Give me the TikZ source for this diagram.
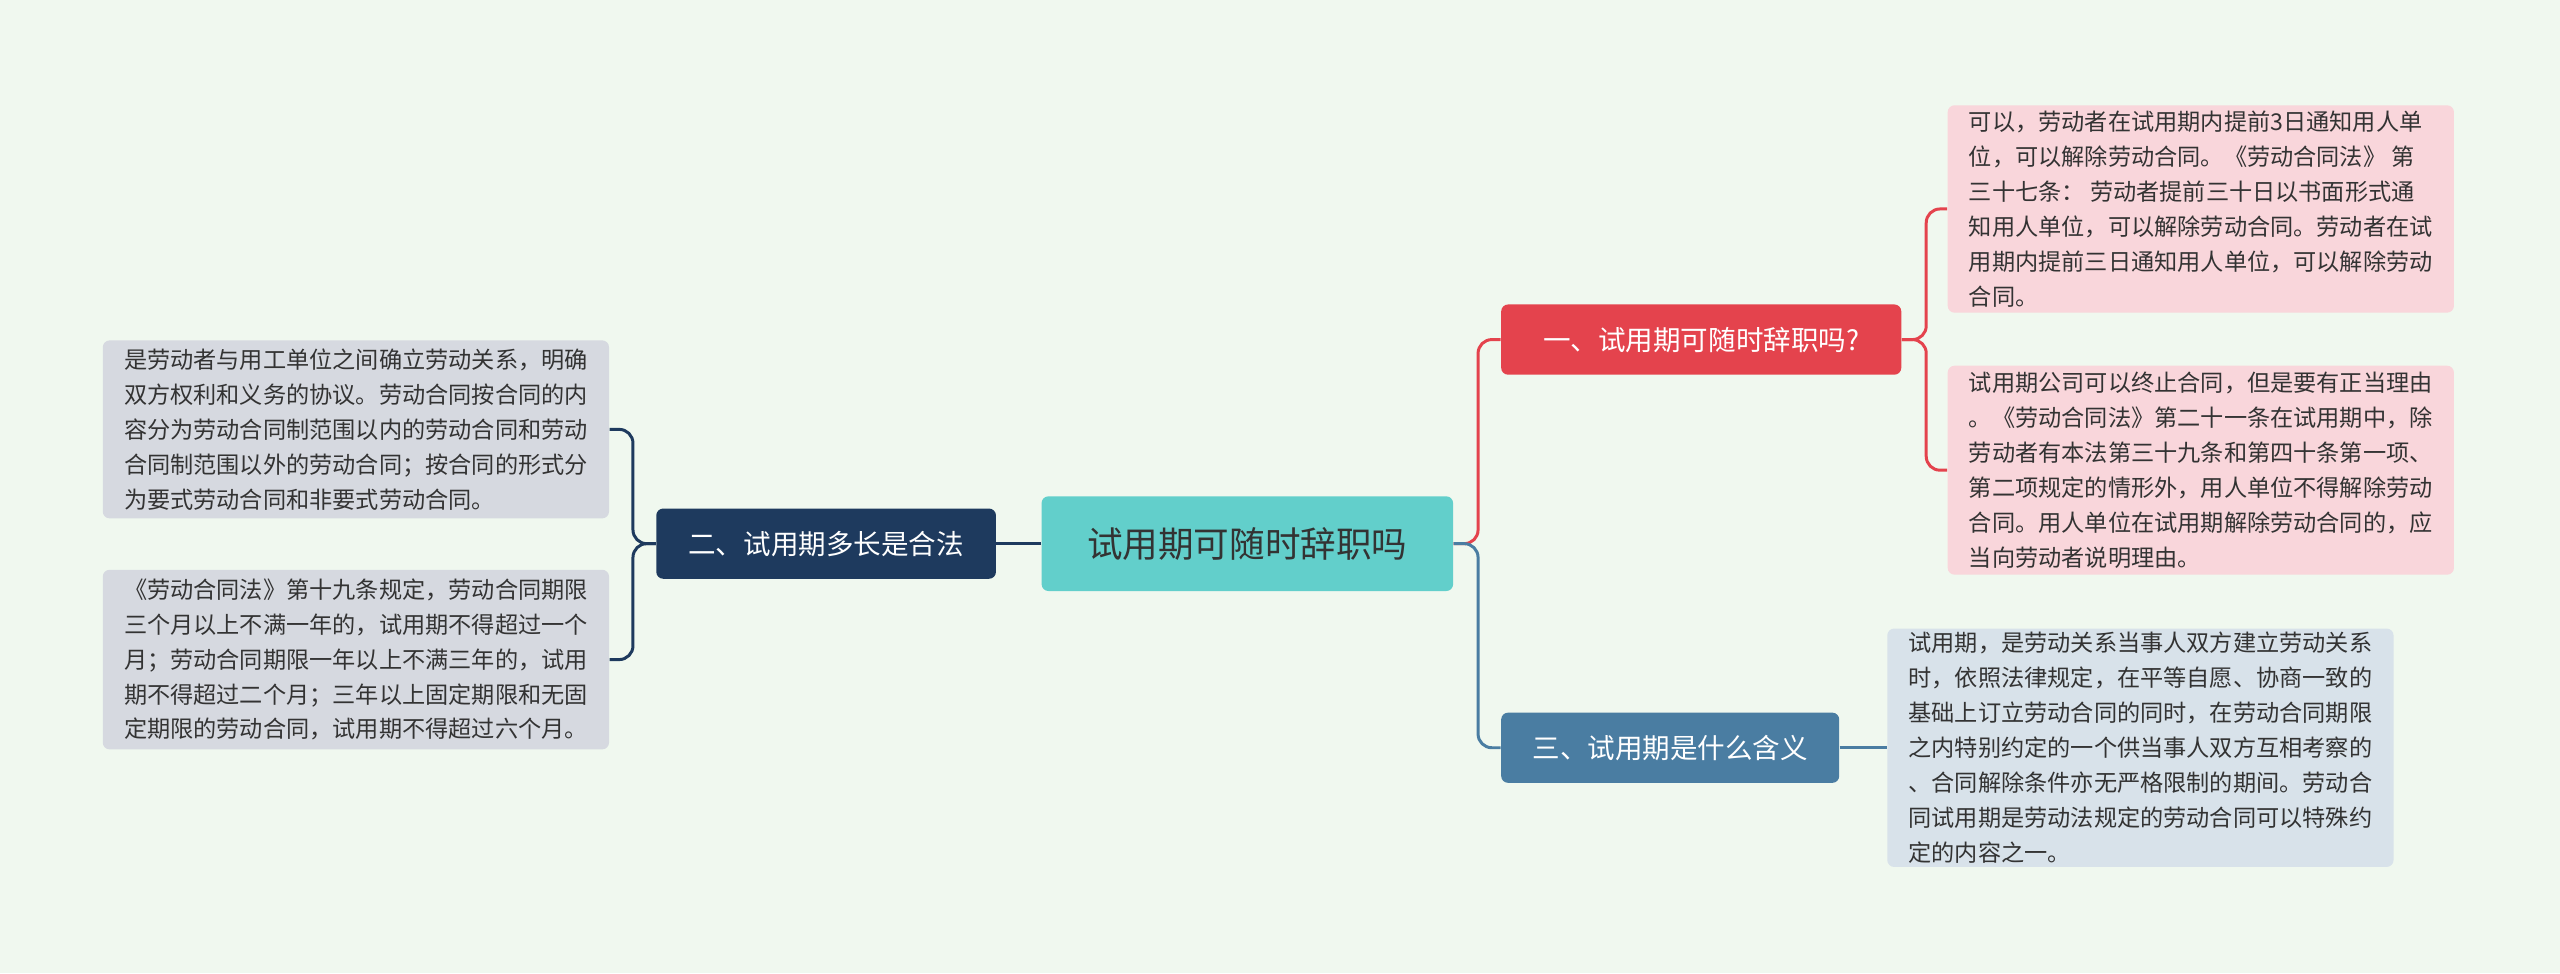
\documentclass[tikz,border=0pt]{standalone}
\usepackage{fontspec}
\setmainfont{Noto Sans CJK SC}
\usepackage{tikz}
\usetikzlibrary{positioning}
\definecolor{bg}{HTML}{F0F8EF}
\definecolor{rootc}{HTML}{62CFCB}
\definecolor{redc}{HTML}{E4434D}
\definecolor{navyc}{HTML}{1E3A5E}
\definecolor{bluec}{HTML}{4A7DA2}
\definecolor{pinkc}{HTML}{F9D6DB}
\definecolor{greyc}{HTML}{D6D9E0}
\definecolor{paleb}{HTML}{D8E2EA}
\tikzstyle{root} = [fill=rootc, rounded corners=3, minimum width=6.3cm, minimum height=1.45cm, font=\fontsize{15.5}{18}\selectfont, text=black!80]
\tikzstyle{branch} = [rounded corners=3, minimum height=1.075cm, text=white, font=\fontsize{12}{14}\selectfont]
\tikzstyle{leaf} = [rounded corners=3, align=left, inner sep=0, minimum width=7.75cm, text=black!80, font=\fontsize{10.1}{15.2}\selectfont]
\tikzstyle{link} = [line width=1.3pt, rounded corners=6]

\begin{document}
\begin{tikzpicture}[x=0.025cm, y=-0.025cm]
        \useasboundingbox[fill=bg] (0,0) rectangle (1568,596);
        \node [root] (root) at (764,333) {试用期可随时辞职吗};
        \node [branch, fill=redc, minimum width=6.125cm] (b1) at (1042,208) {一、试用期可随时辞职吗?};
        \node [branch, fill=navyc, minimum width=5.2cm] (b2) at (506,333) {二、试用期多长是合法};
        \node [branch, fill=bluec, minimum width=5.175cm] (b3) at (1023,458) {三、试用期是什么含义};
        \node [leaf, fill=pinkc, minimum height=3.175cm] (l1) at (1348,128) {可以，劳动者在试用期内提前3日通知用人单\\位，可以解除劳动合同。《劳动合同法》 第\\三十七条： 劳动者提前三十日以书面形式通\\知用人单位，可以解除劳动合同。劳动者在试\\用期内提前三日通知用人单位，可以解除劳动\\合同。};
        \node [leaf, fill=pinkc, minimum height=3.2cm] (l2) at (1348,288) {试用期公司可以终止合同，但是要有正当理由\\。《劳动合同法》第二十一条在试用期中，除\\劳动者有本法第三十九条和第四十条第一项、\\第二项规定的情形外，用人单位不得解除劳动\\合同。用人单位在试用期解除劳动合同的，应\\当向劳动者说明理由。};
        \node [leaf, fill=greyc, minimum height=2.725cm] (l3) at (218,263) {是劳动者与用工单位之间确立劳动关系，明确\\双方权利和义务的协议。劳动合同按合同的内\\容分为劳动合同制范围以内的劳动合同和劳动\\合同制范围以外的劳动合同；按合同的形式分\\为要式劳动合同和非要式劳动合同。};
        \node [leaf, fill=greyc, minimum height=2.75cm] (l4) at (218,404) {《劳动合同法》第十九条规定，劳动合同期限\\三个月以上不满一年的，试用期不得超过一个\\月；劳动合同期限一年以上不满三年的，试用\\期不得超过二个月；三年以上固定期限和无固\\定期限的劳动合同，试用期不得超过六个月。};
        \node [leaf, fill=paleb, minimum height=3.65cm] (l5) at (1311,458) {试用期，是劳动关系当事人双方建立劳动关系\\时，依照法律规定，在平等自愿、协商一致的\\基础上订立劳动合同的同时，在劳动合同期限\\之内特别约定的一个供当事人双方互相考察的\\、合同解除条件亦无严格限制的期间。劳动合\\同试用期是劳动法规定的劳动合同可以特殊约\\定的内容之一。};

        \draw [link, redc] (root.east) -- ++(15,0) |- (b1.west);
        \draw [link, bluec] (root.east) -- ++(15,0) |- (b3.west);
        \draw [link, navyc] (root.west) -- (b2.east);
        \draw [link, redc] (b1.east) -- ++(15,0) |- (l1.west);
        \draw [link, redc] (b1.east) -- ++(15,0) |- (l2.west);
        \draw [link, navyc] (b2.west) -- ++(-14,0) |- (l3.east);
        \draw [link, navyc] (b2.west) -- ++(-14,0) |- (l4.east);
        \draw [link, bluec] (b3.east) -- (l5.west);
\end{tikzpicture}
\end{document}
